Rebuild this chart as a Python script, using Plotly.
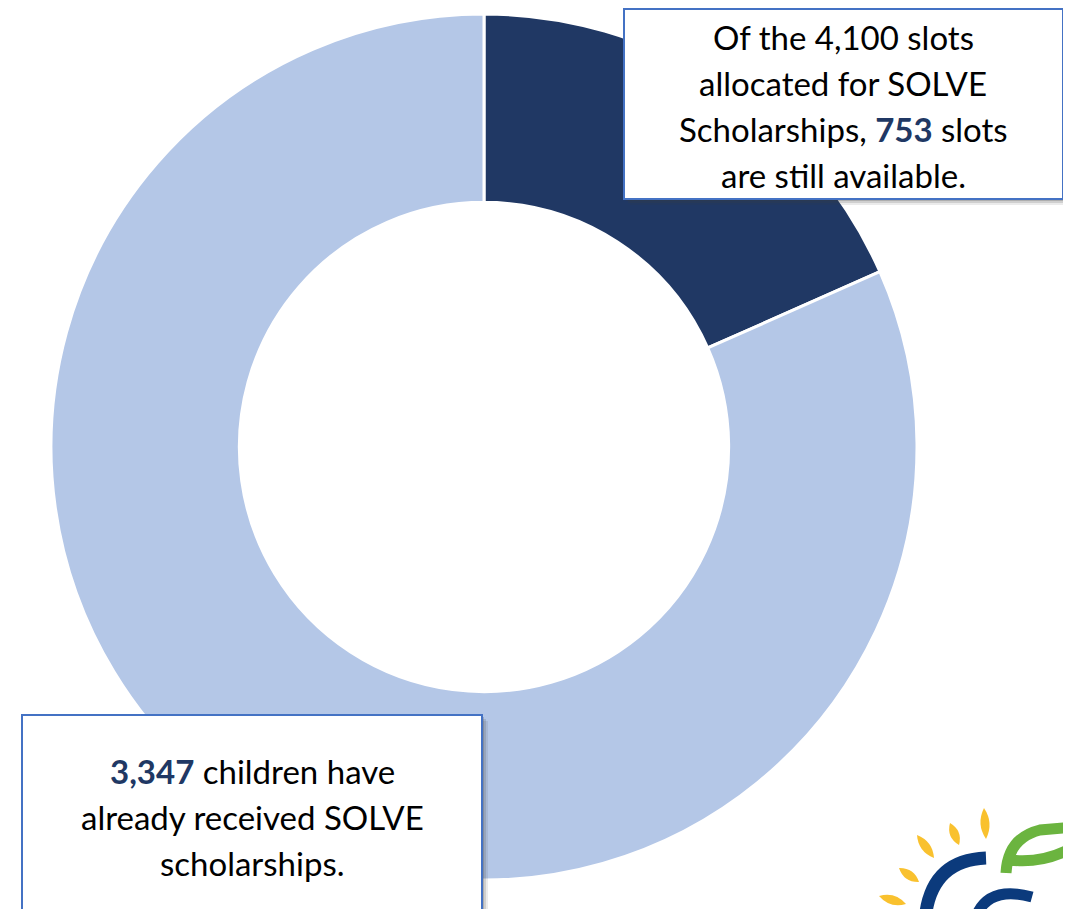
import plotly.graph_objects as go

W, H = 1071, 909
OFF = 8  # page body margin

# ---- data ----
labels = ["Slots still available", "Children who received SOLVE scholarships"]
values = [753, 3347]
colors = ["#203864", "#B4C7E7"]

top_lines = [
    "Of the 4,100 slots",
    "allocated for SOLVE",
    "Scholarships, <b><span style='color:#203864'>753</span></b> slots",
    "are still available.",
]
bottom_lines = [
    "<b><span style='color:#203864'>3,347</span></b> children have",
    "already received SOLVE",
    "scholarships.",
]


def fx(x):
    return (x - OFF) / W


def fy(y):
    return 1 - (y - OFF) / H


def P(x, y):
    return f"{fx(x):.5f},{fy(y):.5f}"


fig = go.Figure()
fig.add_trace(go.Pie(
    labels=labels, values=values, hole=0.565, sort=False,
    direction="clockwise", rotation=0,
    marker=dict(colors=colors, line=dict(color="white", width=3)),
    textinfo="none", hoverinfo="label+value", showlegend=False,
    domain=dict(x=[fx(51), fx(917)], y=[fy(880), fy(14)]),
))

shapes = []


def box(x0, y0, x1, y1):
    # soft shadow
    for off, op in [(6, 0.10), (4, 0.16), (2, 0.22)]:
        shapes.append(dict(type="rect", xref="paper", yref="paper",
                           x0=fx(x0 + off), x1=fx(x1 + off), y0=fy(y1 + off), y1=fy(y0 + off),
                           fillcolor=f"rgba(60,60,60,{op})", line=dict(width=0), layer="above"))
    shapes.append(dict(type="rect", xref="paper", yref="paper",
                       x0=fx(x0), x1=fx(x1), y0=fy(y1), y1=fy(y0),
                       fillcolor="white", line=dict(color="#4472C4", width=2), layer="above"))


box(624, 9, 1063, 199)
box(22, 715, 482, 930)

# ---- logo (partial, bottom-right) ----
def dash(x1, y1, x2, y2, w):
    mx, my = (x1 + x2) / 2, (y1 + y2) / 2
    dx, dy = x2 - x1, y2 - y1
    L = (dx * dx + dy * dy) ** 0.5
    nx, ny = -dy / L * w, dx / L * w
    return (f"M {P(x1, y1)} Q {P(mx + nx, my + ny)} {P(x2, y2)} "
            f"Q {P(mx - nx, my - ny)} {P(x1, y1)} Z")


yellow = "#F9C12E"
for (a, b, c, d) in [(984, 808, 986, 839), (950, 823, 959, 845), (917, 835, 934, 858),
                     (899, 868, 919, 882), (879, 896, 906, 904), (1064, 902, 1075, 896)]:
    shapes.append(dict(type="path", xref="paper", yref="paper", path=dash(a, b, c, d, 9),
                       fillcolor=yellow, line=dict(width=0), layer="above"))

blue = "#0B3A7C"
shapes.append(dict(type="path", xref="paper", yref="paper",
                   path=f"M {P(986, 858)} Q {P(934, 860)} {P(926, 912)}",
                   line=dict(color=blue, width=13), layer="above"))
shapes.append(dict(type="path", xref="paper", yref="paper",
                   path=f"M {P(978, 912)} Q {P(992, 886)} {P(1032, 897)}",
                   line=dict(color=blue, width=11), layer="above"))

green = "#6BB43F"
shapes.append(dict(type="path", xref="paper", yref="paper",
                   path=(f"M {P(1006, 873)} Q {P(1008, 838)} {P(1040, 830)} "
                         f"L {P(1075, 827)} M {P(1010, 860)} Q {P(1045, 864)} {P(1075, 846)}"),
                   line=dict(color=green, width=11), layer="above"))

fig.update_layout(shapes=shapes)

font = dict(family="Lato, Calibri, Carlito, sans-serif", size=33, color="black")
for i, t in enumerate(top_lines):
    fig.add_annotation(x=fx(843), y=fy(37 + 46 * i), xref="paper", yref="paper",
                       text=t, showarrow=False, font=font, xanchor="center", yanchor="middle")
for i, t in enumerate(bottom_lines):
    fig.add_annotation(x=fx(252), y=fy(771 + 46 * i), xref="paper", yref="paper",
                       text=t, showarrow=False, font=font, xanchor="center", yanchor="middle")

fig.update_layout(width=W, height=H, margin=dict(l=0, r=0, t=0, b=0),
                  paper_bgcolor="white", plot_bgcolor="white")
fig.write_html("out.html")
